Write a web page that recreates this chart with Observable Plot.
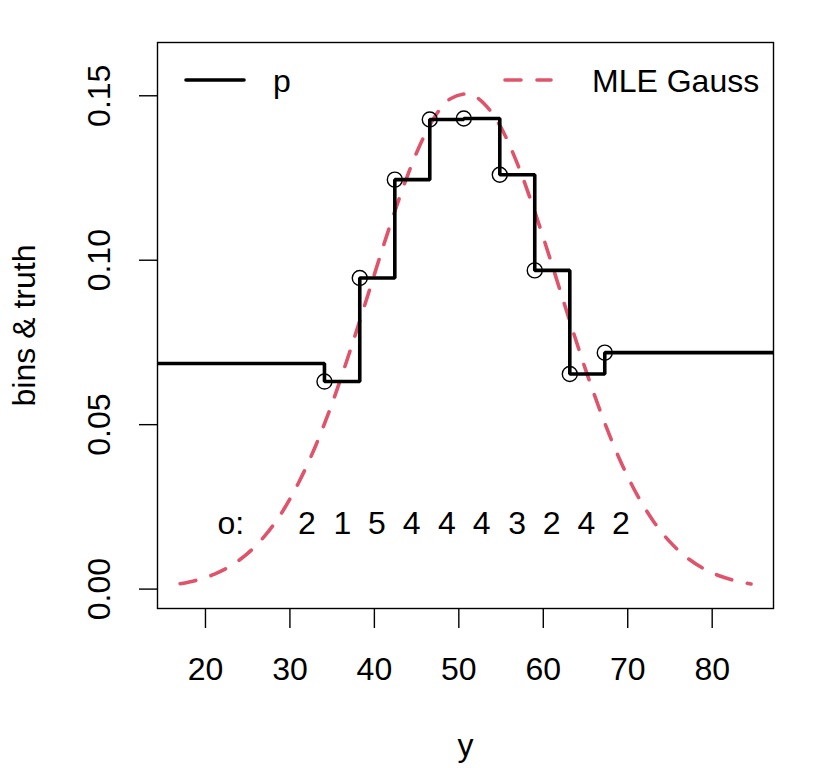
<!DOCTYPE html>
<html><head><meta charset="utf-8">
<script src="https://cdn.jsdelivr.net/npm/d3@7"></script>
<script src="https://cdn.jsdelivr.net/npm/@observablehq/plot@0.6"></script>
<style>
body{margin:0;background:#fff}
svg{display:block}
</style>
</head><body><div id="chart"></div>
<script>
// Step function "p": breakpoints (circles) and the level of each step
const stepX = [34.09, 38.27, 42.42, 46.56, 50.59, 54.85, 58.99, 63.14, 67.28];
const stepP = [0.0631, 0.0946, 0.1245, 0.1428, 0.1431, 0.1260, 0.0969, 0.0654, 0.0719];
const leftP = 0.0686;

// MLE Gauss curve
const gaussX = [17, 19, 21, 23, 25, 27, 29, 31, 33, 35, 37, 39, 41, 43, 45, 47, 49, 51,
                53, 55, 57, 59, 61, 63, 65, 67, 69, 71, 73, 75, 77, 79, 81, 83, 84.6];
const gaussY = [0.00163, 0.00275, 0.00449, 0.00709, 0.01086, 0.0161, 0.0231, 0.0322, 0.0433,
                0.0565, 0.0715, 0.0875, 0.1038, 0.1192, 0.1327, 0.1430, 0.1491, 0.1506,
                0.1476, 0.1403, 0.1289, 0.1147, 0.0989, 0.0826, 0.0668, 0.0524, 0.0397,
                0.0292, 0.0208, 0.01435, 0.00959, 0.0062, 0.00389, 0.00236, 0.00155];

// bin counts "o:"
const binMid = [32.0, 36.2, 40.3, 44.4, 48.6, 52.7, 56.9, 61.0, 65.1, 69.2];
const binCount = [2, 1, 5, 4, 4, 4, 3, 2, 4, 2];
const countY = 0.02;
const countLabelX = 23;

const xTicks = [20, 30, 40, 50, 60, 70, 80];
const yTicks = [0, 0.05, 0.10, 0.15];
const xDomain = [14.32, 87.26];
const yDomain = [-0.0059, 0.1662];

const RED = "#DF536B";
const FS = 32;
const LW = 3.6;

const stepData = [{x: xDomain[0], p: leftP}]
  .concat(stepX.map((x, i) => ({x, p: stepP[i]})))
  .concat([{x: xDomain[1], p: stepP[stepP.length - 1]}]);
const gaussData = gaussX.map((x, i) => ({x, y: gaussY[i]}));
const pointData = stepX.map((x, i) => ({x, p: stepP[i]}));
const countData = binMid.map((x, i) => ({x, n: String(binCount[i])}));

function legend(index, scales, values, dims) {
  const g = d3.create("svg:g").attr("font-size", FS).attr("text-anchor", "start").attr("fill", "black");
  const L = dims.marginLeft, T = dims.marginTop;
  const R = dims.width - dims.marginRight;
  g.append("line").attr("x1", L + 29).attr("x2", L + 87).attr("y1", T + 38).attr("y2", T + 38)
    .attr("stroke", "black").attr("stroke-width", LW).attr("stroke-linecap", "round");
  g.append("text").attr("x", L + 116).attr("y", T + 50).text("p");
  g.append("line").attr("x1", R - 268).attr("x2", R - 222).attr("y1", T + 38).attr("y2", T + 38)
    .attr("stroke", RED).attr("stroke-width", LW).attr("stroke-linecap", "round")
    .attr("stroke-dasharray", "16,16");
  g.append("text").attr("x", R - 181).attr("y", T + 50).text("MLE Gauss");
  return g.node();
}

const chart = Plot.plot({
  width: 816,
  height: 768,
  marginLeft: 157,
  marginRight: 43,
  marginTop: 42,
  marginBottom: 160,
  style: {fontFamily: "'Liberation Sans', Arial, Helvetica, sans-serif", fontSize: FS + "px", background: "#fff", color: "black"},
  x: {domain: xDomain, axis: null},
  y: {domain: yDomain, axis: null},
  marks: [
    Plot.line(gaussData, {x: "x", y: "y", stroke: RED, strokeWidth: LW, strokeDasharray: "16,16", strokeLinecap: "round", curve: "monotone-x"}),
    Plot.line(stepData, {x: "x", y: "p", stroke: "black", strokeWidth: LW, curve: "step-after", strokeLinejoin: "miter", strokeLinecap: "butt"}),
    Plot.dot(pointData, {x: "x", y: "p", r: 7.5, stroke: "black", strokeWidth: 1.4, fill: "none"}),
    Plot.text(countData, {x: "x", y: () => countY, text: "n", fontSize: FS, lineAnchor: "middle", fill: "black"}),
    Plot.text(["o:"], {x: () => countLabelX, y: () => countY, text: d => d, fontSize: FS, lineAnchor: "middle", fill: "black"}),
    Plot.frame({stroke: "black", strokeWidth: 1.4}),
    Plot.axisX({ticks: xTicks, tickSize: 20, tickFormat: () => "", label: null, strokeWidth: 1.4}),
    Plot.axisY({ticks: yTicks, tickSize: 18, tickFormat: () => "", label: null, strokeWidth: 1.4}),
    Plot.text(xTicks, {x: d => d, frameAnchor: "bottom", dy: 61, text: d => String(d), fontSize: FS, lineAnchor: "middle", fill: "black"}),
    Plot.text(yTicks, {y: d => d, frameAnchor: "left", dx: -58, rotate: -90, text: d => d3.format(".2f")(d), fontSize: FS, textAnchor: "middle", lineAnchor: "middle", fill: "black"}),
    Plot.text(["bins & truth"], {frameAnchor: "left", dx: -133, rotate: -90, text: d => d, fontSize: FS, textAnchor: "middle", lineAnchor: "middle", fill: "black"}),
    Plot.text(["y"], {frameAnchor: "bottom", dy: 137, text: d => d, fontSize: FS, lineAnchor: "middle", fill: "black"}),
    legend
  ]
});
document.getElementById("chart").appendChild(chart);
</script>
</body></html>
